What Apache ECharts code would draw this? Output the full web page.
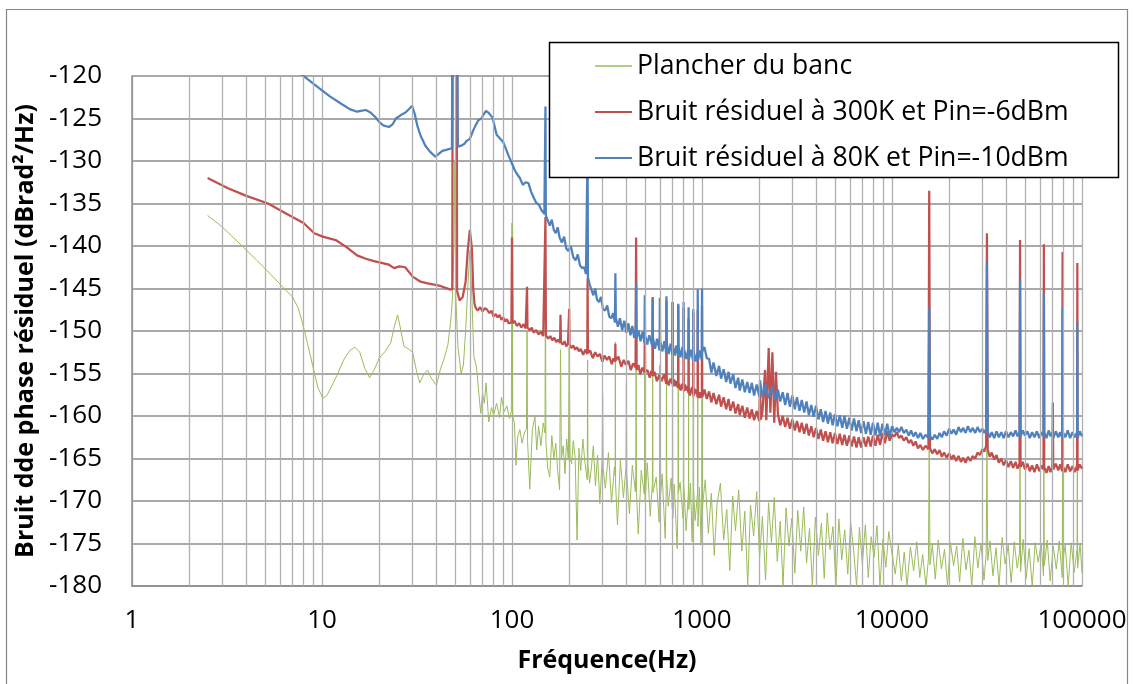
<!DOCTYPE html>
<html>
<head>
<meta charset="utf-8">
<script src="https://cdn.jsdelivr.net/npm/echarts@6/dist/echarts.min.js"></script>
<style>
html,body{margin:0;padding:0;background:#fff;}
#chart{width:1134px;height:684px;}
</style>
</head>
<body>
<div id="chart"></div>
<script>
// ---------- DATA ----------
const seriesNames = ['Plancher du banc', 'Bruit résiduel à 300K et Pin=-6dBm', 'Bruit résiduel à 80K et Pin=-10dBm'];
const xTickLabels = ['1', '10', '100', '1000', '10000', '100000'];
const yMin = -180, yMax = -120, yStep = 5;
const xAxisTitle = 'Fréquence(Hz)';
const yAxisTitle = 'Bruit dde phase résiduel (dBrad²/Hz)';

// Plancher du banc  [Hz, dBrad²/Hz]
const floorBench = [
[2.5,-136.4],[3,-137.8],[3.84,-140.1],[4.5,-141.6],[5.3,-143.2],[6.2,-144.8],[7.0,-146.0],[7.5,-147.3],[7.9,-149.1],[8.4,-151.5],[8.96,-154.2],[9.5,-156.6],[10.1,-157.9],[10.6,-157.6],[11.3,-156.4],[12,-155.2],[13,-153.4],[14,-152.3],[14.9,-151.9],[15.8,-152.5],[16.8,-154.4],[17.8,-155.5],[18.8,-154.6],[20,-153.2],[21.5,-152.4],[23,-151.4],[24,-149.5],[25,-148.1],[26,-149.9],[27,-151.8],[28.5,-152.1],[30,-152.5],[31.5,-154.8],[32.7,-156.1],[34.5,-155.0],[36,-154.6],[37.5,-155.5],[40,-156.4],[42,-154.5],[44,-153.2],[46,-151.6],[47.5,-149.0],[48.5,-146.5],[49.5,-140],[50,-130],[50.6,-146],[52,-152],[54,-155],[55.5,-154],[57,-150],[58.5,-145],[60,-140.5],[61.5,-146],[63,-153],[65,-154.2],[67,-157.5],[68.5,-159.7],[70,-157.3],[71.5,-158.5],[73,-156.1],[75.5,-160.7],[78,-159.0],[80,-159.9],[83,-158.5],[86,-160.2],[88,-157.8],[91,-159.5],[94,-158.8],[97,-160.3],[99.2,-159.5],[100,-137.3],[100.8,-160],[103,-160.8],[105,-165.8],[107,-162.5],[110,-161.6],[113,-163.2],[116,-162.0],[119.2,-161.5],[120,-150],[120.8,-163],[124,-168.6],[128,-161.6],[132,-160.1],[135,-164.0],[138,-161.2],[142,-163.5],[146,-160.8],[149.2,-162],[150,-140],[150.8,-163],[154,-166.1],[158,-167.2],[162,-162.3],[166,-165.0],[170,-163.2],[174,-166.5],[178,-168.7],[180,-152.2],[182,-165],[186,-163.5],[190,-166.8],[194,-162.7],[198,-165.2],[200,-151.9],[202,-164.8],[206,-165.6],[210,-162.9],[215,-164.9],[220,-174.6],[225,-163.8],[230,-166.4],[236,-162.7],[242,-165.5],[249,-167.5],[250,-153.4],[251,-165.6],[256,-167.9],[262,-166.0],[268,-163.5],[275,-168.2],[282,-164.6],[290,-170.3],[298,-165.1],[300,-157.5],[302,-166.2],
[310,-168.5],[322,-164.3],[334,-170.2],[346,-166.0],[349,-167],[350,-151.3],[351,-168],[359,-172.8],[372,-165.2],[386,-169.6],[398,-166],[400,-156],[402,-167],[415,-171.5],[430,-165.8],[446,-168.9],[448,-167],[450,-152.0],[452,-169],[462,-173.9],[479,-166.4],[497,-169.2],[498,-168],[500,-153.0],[502,-170],[515,-165.5],[534,-171.8],[548,-168],[550,-155.0],[552,-169],[574,-167.2],[595,-172.5],[598,-169],[600,-154],[602,-170],[617,-166.8],[640,-174.4],[648,-169],[650,-156],[652,-167],[664,-170.6],[688,-167.3],[698,-171],[700,-153],[702,-172],[714,-168.0],[740,-175.6],[748,-170],[750,-155],[752,-169],[767,-167.8],[795,-172.1],[798,-170],[800,-154],[802,-168],[825,-173.5],[848,-169],[850,-156],[852,-171],[870,-167.9],[887,-174.8],[898,-170],[900,-155],[902,-168.5],[920,-172.3],[948,-169],[950,-157],[952,-173],[970,-168.4],[989,-175.2],[998,-170],[1000,-158],[1002,-171],
[1040,-167.5],[1080,-173.8],[1120,-169.1],[1160,-176.4],[1200,-170.3],[1250,-167.9],[1300,-174.6],[1350,-171.0],[1400,-178.2],[1450,-169.4],[1500,-173.5],[1560,-168.7],[1620,-175.9],[1680,-171.2],[1740,-180],[1800,-170.5],[1870,-174.1],[1940,-168.9],[2010,-176.7],[2080,-171.8],[2160,-179.3],[2240,-170.2],[2320,-174.9],[2400,-169.6],[2490,-177.1],[2580,-172.4],[2670,-180],[2770,-170.8],[2870,-175.3],[2970,-172.0],[3080,-178.5],[3190,-171.1],[3310,-175.9],[3430,-170.7],[3550,-177.3],[3680,-173.2],[3810,-180],[3950,-171.9],[4100,-176.4],[4250,-172.6],[4400,-179.1],[4560,-171.4],[4720,-175.7],[4890,-173.0],[5070,-180],[5250,-172.1],[5440,-176.9],[5640,-173.4],[5850,-178.6],[6060,-172.5],[6280,-175.8],[6510,-180],[6740,-173.1],[6980,-177.4],[7240,-172.8],[7500,-179.0],[7770,-174.2],[8050,-176.6],[8340,-172.9],[8640,-180],[8960,-174.5],[9280,-177.8],[9620,-173.6],[10000,-176.2],
[10400,-178.6],[10800,-175.2],[11200,-179.4],[11600,-176.0],[12000,-180],[12500,-175.4],[13000,-178.2],[13500,-174.8],[14000,-179.0],[14500,-176.3],[15100,-180],[15550,-176.8],[15700,-164.0],[15850,-177.5],[16300,-175.1],[16900,-179.2],[17500,-174.6],[18200,-178.0],[18900,-175.7],[19600,-180],[20300,-174.9],[21100,-177.6],[21900,-175.3],[22700,-179.5],[23600,-174.4],[24500,-178.1],[25400,-175.8],[26300,-180],[27300,-174.2],[28300,-177.9],[29400,-175.0],[30500,-179.3],[31300,-176.2],[31600,-164.0],[31900,-177.0],[32800,-174.7],[34000,-178.8],[35300,-175.5],[36600,-180],[38000,-174.3],[39400,-177.4],[40900,-175.2],[42400,-179.6],[44000,-174.8],[45600,-177.9],[46900,-176.1],[47200,-165.2],[47500,-178.3],[49000,-174.5],[50800,-179.1],[52700,-175.6],[54700,-180],[56700,-174.9],[58800,-177.2],[61000,-175.0],[62700,-178.8],[63000,-165.5],[63300,-177.6],[65600,-174.6],[68000,-179.4],[70600,-175.3],[73200,-178.0],[75900,-174.7],[78700,-179.0],[79000,-165.0],[79300,-176.9],[81600,-175.2],[84600,-180],[87700,-174.9],[91000,-178.4],[94200,-175.6],[94500,-165.5],[94800,-177.9],[97700,-175.0],[100000,-178.5]
];

// Bruit résiduel à 300K et Pin=-6dBm
const residual300K = [
[2.5,-132.0],[3.2,-133.2],[4,-134.1],[5.2,-135.0],[6.5,-136.2],[8,-137.3],[9.1,-138.5],[10.1,-138.9],[11.8,-139.3],[13.4,-140.1],[15.3,-141.1],[17,-141.5],[19,-141.8],[22.5,-142.2],[24,-142.6],[25.5,-142.4],[27.4,-142.5],[30,-143.6],[33,-144.2],[36,-144.4],[42,-144.7],[47,-145.1],[48.5,-145.1],[48.7,-118],[51.2,-118],[51.4,-145.3],[53,-146.4],[55,-146.0],[57,-144.2],[58.5,-140.5],[60,-138.1],[61.5,-140.3],[62.5,-145.0],[63.5,-146.8],
[64.5,-147.3],[66,-147.6],[68,-147.2],[70,-147.7],[72,-147.3],[74,-147.5],[76,-147.9],[78,-147.6],[80,-148.3],[82,-148.0],[84,-148.4],[86,-148.1],[88,-148.7],[90,-148.4],[92,-148.9],[94,-148.6],[96,-149.1],[98,-148.9],[99.3,-149.0],[100,-139.0],[100.7,-149.1],[103,-148.8],[106,-149.4],[109,-149.1],[112,-149.6],[115,-149.2],[118,-149.7],[119.4,-149.5],[120,-144.8],[120.6,-149.6],[124,-149.9],[127,-149.6],[130,-150.2],[134,-149.9],[138,-150.4],[142,-150.1],[146,-150.6],[149.2,-150.4],[150,-136.6],[150.8,-150.5],[155,-150.9],[159,-150.6],[163,-151.1],[167,-150.8],[171,-151.3],[175,-151.0],[179,-151.4],[180,-148.1],[181,-151.3],[185,-151.6],[189,-151.2],[193,-151.8],[197,-151.5],[199.2,-151.7],[200,-147.4],[200.8,-151.6],[205,-152.0],[210,-151.7],[215,-152.2],[220,-151.9],[225,-152.4],[230,-152.1],
[237,-152.8],[243,-152.2],[249,-152.7],[250,-143.8],[251,-152.6],[258,-152.3],[266,-153.2],[274,-152.5],[282,-153.0],[290,-152.7],[299,-153.6],[307,-152.9],[316,-153.4],[325,-153.0],[335,-153.9],[342,-153.2],[349,-153.6],[350,-151.5],[351,-153.5],[363,-153.0],[376,-154.2],[387,-153.4],[398,-154.0],[410,-153.5],[422,-154.6],[434,-153.8],[447,-154.3],[450,-139.0],[453,-154.6],[463,-154.0],[473,-155.1],[486,-154.3],[498,-154.9],[500,-150.0],[502,-154.8],[516,-154.6],[531,-155.5],[540,-154.7],[548,-155.2],[550,-146.0],[552,-155.3],[562,-154.8],[579,-155.9],[596,-155.2],[613,-155.9],[631,-155.1],[648,-156.2],[650,-146.4],[652,-155.6],[660,-155.4],[668,-156.4],[683,-155.6],[698,-156.2],[700,-146.6],[702,-156.5],[714,-155.7],[725,-156.5],[737,-155.9],[748,-156.7],[750,-147.0],[752,-156.1],[772,-157.0],[785,-156.2],[798,-156.8],[800,-147.3],[802,-157.1],[814,-156.3],[825,-157.0],[837,-156.5],[848,-157.3],[850,-148.5],[852,-156.8],[864,-157.6],[875,-157.0],[887,-156.6],[898,-157.4],[900,-147.8],[902,-157.7],[914,-156.8],[925,-157.4],[937,-156.9],[948,-157.8],[950,-147.5],[952,-157.2],[963,-157.9],[975,-157.2],[987,-157.9],[998,-157.3],[1000,-147.0],[1002,-157.8],
[1030,-156.9],[1060,-158.0],[1090,-157.1],[1120,-158.4],[1150,-157.3],[1190,-158.6],[1230,-157.5],[1260,-158.9],[1300,-157.8],[1340,-159.2],[1380,-158.0],[1410,-159.4],[1460,-158.3],[1500,-159.7],[1550,-158.6],[1580,-159.9],[1630,-158.8],[1680,-160.2],[1730,-159.0],[1780,-160.3],[1830,-159.2],[1880,-160.5],[1940,-159.4],[2000,-160.6],[2020,-156.4],[2040,-160.4],[2080,-159.5],[2146,-154.6],[2180,-160.5],[2244,-152.0],[2290,-159.6],[2347,-152.5],[2400,-160.8],[2451,-154.8],[2510,-159.8],[2580,-161.1],[2660,-160.0],[2740,-161.3],[2820,-160.2],[2900,-161.5],[2990,-160.4],[3080,-161.7],[3160,-160.6],[3260,-161.9],[3350,-160.8],[3450,-162.1],[3550,-160.9],[3650,-162.3],[3760,-161.2],[3870,-162.5],[3980,-161.4],[4100,-162.7],[4220,-161.6],[4340,-162.9],[4470,-161.8],[4600,-163.1],[4730,-161.9],[4870,-163.2],[5010,-162.0],[5160,-163.3],[5310,-162.1],[5470,-163.4],[5620,-162.2],[5790,-163.5],[5960,-162.3],[6130,-163.6],[6310,-162.4],[6500,-163.7],[6680,-162.5],[6880,-163.7],[7080,-162.5],[7290,-163.6],[7500,-162.4],[7720,-163.6],[7940,-162.3],[8180,-163.5],[8410,-162.2],[8660,-163.4],[8910,-162.0],[9170,-163.2],[9440,-161.8],[9720,-162.9],[10000,-162.2],
[10300,-162.4],[10600,-161.9],[10900,-162.6],[11200,-162.3],[11550,-162.9],[11900,-162.5],[12250,-163.2],[12600,-162.8],[12950,-163.5],[13300,-163.0],[13700,-163.8],[14100,-163.4],[14550,-164.0],[15000,-163.5],[15550,-163.9],[15700,-133.5],[15850,-163.8],[16300,-164.4],[16800,-163.9],[17300,-164.5],[17800,-164.0],[18300,-164.8],[18800,-164.3],[19400,-164.9],[20000,-164.4],[20550,-165.1],[21100,-164.6],[21750,-165.3],[22400,-164.7],[23050,-165.4],[23700,-164.9],[24400,-165.5],[25100,-164.8],[25850,-165.3],[26600,-164.7],[27400,-165.0],[28200,-164.3],[29000,-164.6],[29900,-163.9],[30600,-164.2],[31300,-163.5],[31600,-138.5],[31900,-164.0],[32700,-164.8],[33500,-164.3],[34500,-165.1],[35500,-164.6],[36500,-165.5],[37600,-165.0],[38700,-165.8],[39800,-165.2],[41000,-166.0],[42200,-165.3],[43400,-166.1],[44700,-165.4],[45800,-166.2],[46900,-165.6],[47200,-139.3],[47500,-166.0],[48800,-165.4],[50100,-166.3],[51600,-165.6],[53100,-166.5],[54600,-165.8],[56200,-166.6],[57900,-165.7],[59600,-166.5],[61200,-165.8],[62700,-166.3],[63000,-139.8],[63300,-166.0],[65000,-166.7],[66800,-165.9],[68300,-166.6],[69800,-166.0],[70200,-158.4],[70600,-166.3],[72800,-165.6],[75000,-166.4],[76800,-165.7],[78700,-166.5],[79000,-140.7],[79300,-165.9],[81700,-166.6],[84100,-165.7],[86600,-166.5],[89100,-165.9],[91600,-166.6],[94200,-165.8],[94500,-142.0],[94800,-166.4],[97300,-165.7],[100000,-166.2]
];

// Bruit résiduel à 80K et Pin=-10dBm
const residual80K = [
[7.8,-119.8],[9,-120.9],[10,-121.7],[11,-122.4],[12.5,-123.2],[14,-123.9],[15.3,-124.2],[16,-124.1],[17,-124.0],[18,-124.3],[19,-124.8],[20,-125.4],[21,-125.8],[22.5,-126.0],[23.5,-125.7],[24.5,-125.0],[26,-124.6],[27.5,-124.3],[29,-123.8],[29.8,-123.5],[30.8,-124.5],[31.8,-125.9],[33,-127.0],[35,-128.2],[37,-128.9],[39.5,-129.5],[41,-129.2],[43,-128.8],[45,-128.7],[48.3,-128.5],[48.5,-118],[51.7,-118],[51.9,-128.3],[54,-128.2],[56,-128.0],[58,-127.6],[60,-127.4],[61,-127.0],[62.5,-126.4],[64,-125.9],[66.5,-125.2],[69,-125.0],[71,-124.5],[73,-124.1],[75,-124.3],[77,-124.6],[79,-124.9],[81,-125.9],[83,-126.9],[86,-127.3],[88,-127.1],[90,-127.8],[93,-128.6],[96,-129.4],[100,-130.3],[103,-131.0],[106,-131.5],[110,-132.0],[114,-132.8],[118,-132.5],[122,-132.6],[126,-133.6],[130,-134.3],[134,-134.9],[139,-135.2],[143,-135.8],[148,-136.2],[149.3,-136.3],[150,-123.6],[150.7,-136.4],[154,-136.6],[158,-137.6],[162,-136.9],[166,-138.1],[170,-138.5],[174,-137.8],[178,-139.0],[183,-139.6],[188,-138.9],[193,-140.3],[198,-140.6],[204,-140.0],[210,-141.3],[216,-141.7],[222,-141.0],[228,-142.3],[234,-142.6],[240,-142.5],[245,-143.3],[249,-143.4],[250,-128],[251,-143.7],[256,-144.5],[262,-144.6],[268,-145.8],[274,-145.0],[280,-146.3],[287,-146.6],[294,-146.0],[301,-147.4],[309,-147.6],[317,-147.0],[325,-148.3],[333,-148.5],[341,-147.9],[348,-149.0],[350,-143.2],[352,-148.4],[361,-149.5],[370,-148.5],[380,-149.9],[390,-148.8],[400,-150.2],[410,-149.1],[420,-150.5],[430,-149.4],[440,-150.8],[448,-149.8],[450,-144.3],[452,-150.9],[463,-149.9],[475,-151.2],[487,-150.1],[498,-151.4],[500,-145.8],[502,-150.5],[515,-151.6],[528,-150.5],[548,-151.8],[550,-146.2],[552,-150.8],[566,-152.1],[580,-150.9],[598,-152.3],[600,-146.1],[602,-151.1],[618,-152.4],[634,-151.2],[648,-152.6],[650,-145.9],[652,-151.4],[668,-152.7],[684,-151.5],[698,-152.8],[700,-146.6],[702,-151.6],[718,-152.9],[734,-151.7],[748,-153.0],[750,-146.8],[752,-151.8],[770,-153.1],[788,-151.9],[798,-153.2],[800,-146.6],[802,-152.0],[825,-153.3],[848,-152.1],[850,-147.2],[852,-153.4],[875,-152.2],[898,-153.5],[900,-147.4],[902,-152.3],[925,-153.6],[948,-152.4],[950,-145.1],[952,-153.5],[975,-152.3],[998,-153.4],[1000,-145.0],[1002,-152.4],
[1030,-151.9],[1060,-153.2],[1090,-153.3],[1120,-154.9],[1150,-153.7],[1190,-155.3],[1230,-154.1],[1260,-155.6],[1300,-154.5],[1340,-156.0],[1380,-154.8],[1410,-156.2],[1460,-155.1],[1500,-156.7],[1550,-155.5],[1580,-157.0],[1630,-155.7],[1680,-157.2],[1730,-156.0],[1780,-157.3],[1830,-156.1],[1880,-157.6],[1940,-156.3],[2000,-157.7],[2020,-155.8],[2080,-157.8],[2150,-156.3],[2240,-157.9],[2350,-156.5],[2420,-158.1],[2510,-156.9],[2580,-158.3],[2660,-157.2],[2740,-158.7],[2820,-157.3],[2900,-158.9],[2990,-157.6],[3080,-159.2],[3160,-157.8],[3260,-159.4],[3350,-158.1],[3450,-159.6],[3550,-158.3],[3650,-159.9],[3760,-158.7],[3870,-160.1],[3980,-158.8],[4100,-160.4],[4220,-159.2],[4340,-160.7],[4470,-159.4],[4600,-160.9],[4730,-159.6],[4870,-161.1],[5010,-159.8],[5160,-161.2],[5310,-159.9],[5470,-161.4],[5620,-160.0],[5790,-161.5],[5960,-160.2],[6130,-161.7],[6310,-160.3],[6500,-161.8],[6680,-160.5],[6880,-162.0],[7080,-160.6],[7290,-162.1],[7500,-160.7],[7720,-162.2],[7940,-160.8],[8180,-162.3],[8410,-160.8],[8660,-162.4],[8910,-160.9],[9170,-162.3],[9440,-160.9],[9720,-162.4],[10000,-161.2],
[10300,-161.9],[10600,-161.4],[10900,-161.9],[11200,-161.3],[11550,-162.0],[11900,-161.6],[12250,-162.3],[12600,-161.7],[12950,-162.4],[13300,-161.9],[13700,-162.6],[14100,-162.0],[14550,-162.7],[15000,-162.2],[15550,-162.6],[15700,-147.3],[15850,-162.3],[16300,-162.8],[16800,-162.2],[17300,-162.7],[17800,-162.0],[18300,-162.5],[18800,-161.8],[19400,-162.3],[20000,-161.5],[20550,-162.1],[21100,-161.6],[21750,-162.2],[22400,-161.3],[23050,-161.9],[23700,-161.4],[24400,-162.0],[25100,-161.2],[25850,-161.9],[26600,-161.4],[27400,-162.0],[28200,-161.3],[29000,-161.9],[29900,-161.5],[30600,-162.0],[31300,-161.5],[31600,-141.9],[31900,-161.9],[32700,-162.5],[33500,-161.9],[34500,-162.6],[35500,-161.8],[36500,-162.5],[37600,-161.9],[38700,-162.6],[39800,-161.8],[41000,-162.5],[42200,-161.9],[43400,-162.4],[44700,-161.7],[45800,-162.4],[46900,-161.9],[47200,-144.0],[47500,-162.4],[48800,-161.7],[50100,-162.3],[51600,-161.8],[53100,-162.6],[54600,-161.9],[56200,-162.5],[57900,-161.8],[59600,-162.6],[61200,-161.9],[62700,-162.4],[63000,-145.6],[63300,-161.9],[65000,-162.6],[66800,-161.7],[68300,-162.4],[69800,-161.9],[70600,-162.6],[72800,-161.8],[75000,-162.5],[76800,-161.9],[78700,-162.6],[79000,-147.3],[79300,-161.9],[81700,-162.5],[84100,-161.7],[86600,-162.6],[89100,-161.9],[91600,-162.5],[94200,-161.9],[94500,-149.0],[94800,-162.6],[97300,-161.8],[100000,-162.4]
];

// ---------- CHART ----------
const FONT = 'Open Sans';
const colors = ['#9BBB59', '#C0504D', '#4F81BD'];

// minor vertical grid lines (2..9 within each decade)
const minorLines = [];
for (let d = 1; d < 100000; d *= 10) {
  for (let m = 2; m <= 9; m++) minorLines.push({ xAxis: m * d });
}

const chart = echarts.init(document.getElementById('chart'), null, { renderer: 'canvas' });
const option = {
  animation: false,
  backgroundColor: '#ffffff',
  textStyle: { fontFamily: FONT },
  grid: { left: 132, right: 52, top: 76, bottom: 98, containLabel: false },
  xAxis: {
    type: 'log', logBase: 10, min: 1, max: 100000,
    name: xAxisTitle, nameLocation: 'middle', nameGap: 62,
    nameTextStyle: { fontFamily: FONT, fontSize: 25, fontWeight: 'bold', color: '#000' },
    axisLine: { show: true, lineStyle: { color: '#8C8C8C', width: 1.5 } },
    axisTick: { show: false },
    axisLabel: {
      fontFamily: FONT, fontSize: 26, color: '#000', margin: 22,
      formatter: v => xTickLabels[Math.round(Math.log10(v))] ?? String(v)
    },
    splitLine: { show: true, lineStyle: { color: '#B0B0B0', width: 1.3 } }
  },
  yAxis: {
    type: 'value', min: yMin, max: yMax, interval: yStep,
    name: yAxisTitle, nameLocation: 'middle', nameGap: 88, nameRotate: 90,
    nameTextStyle: { fontFamily: FONT, fontSize: 25, fontWeight: 'bold', color: '#000' },
    axisLine: { show: true, lineStyle: { color: '#8C8C8C', width: 1.5 } },
    axisTick: { show: false },
    axisLabel: { fontFamily: FONT, fontSize: 26, color: '#000', margin: 30 },
    splitLine: { show: true, lineStyle: { color: '#8C8C8C', width: 1.5 } }
  },
  legend: {
    data: [
      { name: seriesNames[0], icon: 'rect', itemStyle: { color: '#B3CD84' } },
      { name: seriesNames[1], icon: 'rect' },
      { name: seriesNames[2], icon: 'rect' }
    ],
    orient: 'vertical',
    left: 595, top: 51,
    padding: 0,
    itemWidth: 37, itemHeight: 2, itemGap: 16,
    z: 10,
    textStyle: { fontFamily: FONT, fontSize: 26.6, color: '#000', lineHeight: 30 },
    selectedMode: false
  },
  graphic: [
    { type: 'rect', z: 9, silent: true,
      shape: { x: 549.5, y: 42.5, width: 569, height: 135 },
      style: { fill: '#fff', stroke: '#000', lineWidth: 1.5 } },
    { type: 'rect', z: -1, silent: true,
      shape: { x: 6.5, y: 9.5, width: 1121, height: 700 },
      style: { fill: 'none', stroke: '#878787', lineWidth: 1.2 } }
  ],
  series: [
    {
      name: '_minor', type: 'line', data: [], z: 1, silent: true,
      markLine: {
        silent: true, symbol: ['none', 'none'], animation: false,
        label: { show: false },
        lineStyle: { color: '#B0B0B0', width: 1.3, type: 'solid' },
        emphasis: { disabled: true },
        data: minorLines
      }
    },
    {
      name: seriesNames[0], type: 'line', data: floorBench, showSymbol: false, symbol: 'none',
      lineStyle: { color: colors[0], width: 1 }, itemStyle: { color: colors[0] }, z: 2, clip: true
    },
    {
      name: seriesNames[1], type: 'line', data: residual300K, showSymbol: false, symbol: 'none',
      lineStyle: { color: colors[1], width: 2.25 }, itemStyle: { color: colors[1] }, z: 3, clip: true
    },
    {
      name: seriesNames[2], type: 'line', data: residual80K, showSymbol: false, symbol: 'none',
      lineStyle: { color: colors[2], width: 2.25 }, itemStyle: { color: colors[2] }, z: 4, clip: true
    }
  ]
};
chart.setOption(option);
</script>
</body>
</html>
